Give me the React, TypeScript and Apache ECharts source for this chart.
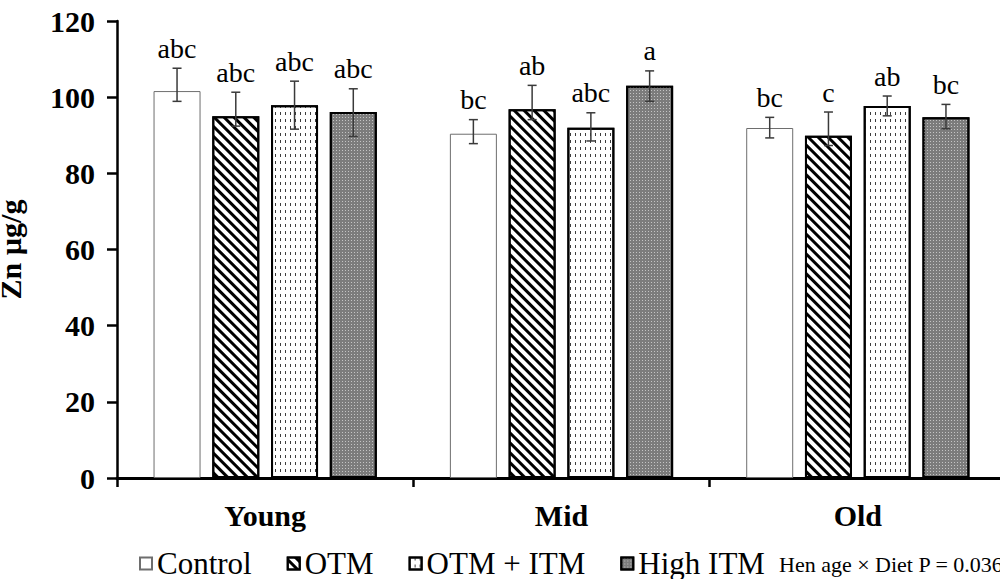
import React, { useEffect, useRef } from "react";
import * as echarts from "echarts";

const categories = ["Young", "Mid", "Old"];
const seriesNames = ["Control", "OTM", "OTM + ITM", "High ITM"];
const control = [101.6, 90.4, 91.9];
const otm = [95.0, 96.8, 89.9];
const otmItm = [97.9, 92.0, 97.7];
const highItm = [96.1, 103.0, 94.7];
// error bar ends [low, high] per category
const controlErr = [[98.9, 107.6], [87.8, 94.1], [89.3, 94.7]];
const otmErr = [[92.4, 101.3], [94.1, 103.1], [87.3, 96.1]];
const otmItmErr = [[91.6, 104.2], [88.5, 95.9], [95.1, 100.3]];
const highItmErr = [[89.7, 102.2], [98.9, 106.9], [91.7, 98.1]];
const controlLetters = ["abc", "bc", "bc"];
const otmLetters = ["abc", "ab", "c"];
const otmItmLetters = ["abc", "abc", "ab"];
const highItmLetters = ["abc", "a", "bc"];
const yTicks = [0, 20, 40, 60, 80, 100, 120];
const note = "Hen age × Diet P = 0.036";

const SERIF = '"Liberation Serif", "Times New Roman", serif';
const BAR_W = 47;
const BAR_GAP = 0.25;

export default function App() {
  const ref = useRef<HTMLDivElement>(null);
  useEffect(() => {
    if (!ref.current) return;
    const chart = echarts.init(ref.current, undefined, { renderer: "svg" });
    const values = [control, otm, otmItm, highItm];
    const errs = [controlErr, otmErr, otmItmErr, highItmErr];
    const letters = [controlLetters, otmLetters, otmItmLetters, highItmLetters];
    const styles: any[] = [
      { color: "#ffffff", borderColor: "#6e6e6e", borderWidth: 1 },
      {
        color: "#ffffff",
        borderColor: "#000",
        borderWidth: 2,
        decal: { symbol: "rect", symbolSize: 1, color: "#000", dashArrayX: [1, 0], dashArrayY: [2.2, 3.4], rotation: Math.PI / 4 },
      },
      {
        color: "#ffffff",
        borderColor: "#000",
        borderWidth: 2,
        decal: { symbol: "rect", symbolSize: 1, color: "#3c3c3c", dashArrayX: [1, 3.3], dashArrayY: [3, 3.5], rotation: 0 },
      },
      {
        color: "#7c7c7c",
        borderColor: "#000",
        borderWidth: 2,
        decal: { symbol: "rect", symbolSize: 1, color: "#c4c4c4", dashArrayX: [1, 2], dashArrayY: [1, 2], rotation: 0 },
      },
    ];
    const errData: number[][] = [];
    errs.forEach((arr, s) => arr.forEach((e, c) => errData.push([c, s, e[0], e[1]])));

    const barSeries = seriesNames.map((name, s) => ({
      name,
      type: "bar",
      data: values[s],
      barWidth: BAR_W,
      barGap: BAR_GAP * 100 + "%",
      itemStyle: styles[s],
      z: 2,
    }));

    chart.setOption({
      animation: false,
      grid: { left: 117, top: 21, width: 889, height: 457, containLabel: false, outerBoundsMode: "none" },
      legend: {
        data: seriesNames,
        left: 139,
        top: 548,
        padding: 0,
        itemWidth: 12,
        itemHeight: 12,
        itemGap: 35,
        icon: "rect",
        textStyle: { fontFamily: SERIF, fontSize: 31, color: "#000" },
      },
      xAxis: {
        type: "category",
        data: categories,
        axisLine: { lineStyle: { color: "#000", width: 3 } },
        axisTick: { show: true, length: 9, lineStyle: { color: "#000", width: 2.5 } },
        axisLabel: { fontFamily: SERIF, fontWeight: "bold", fontSize: 30, color: "#000", margin: 22 },
      },
      yAxis: {
        type: "value",
        min: yTicks[0],
        max: yTicks[yTicks.length - 1],
        interval: yTicks[1] - yTicks[0],
        name: "Zn µg/g",
        nameLocation: "middle",
        nameRotate: 90,
        nameGap: 92,
        nameTextStyle: { fontFamily: SERIF, fontWeight: "bold", fontSize: 30, color: "#000" },
        splitLine: { show: false },
        axisLine: { show: true, lineStyle: { color: "#000", width: 2.5 } },
        axisTick: { show: true, length: 10, lineStyle: { color: "#000", width: 2.5 } },
        axisLabel: { fontFamily: SERIF, fontWeight: "bold", fontSize: 30, color: "#000", margin: 22 },
      },
      graphic: [
        {
          type: "text",
          left: 779,
          top: 553,
          style: { text: note, fontFamily: SERIF, fontSize: 22, fill: "#000" },
        },
      ],
      series: [
        ...barSeries,
        {
          type: "custom",
          name: "err",
          z: 5,
          clip: false,
          data: errData,
          encode: { x: 0, y: [2, 3] },
          renderItem: (params: any, api: any) => {
            const c = api.value(0);
            const s = api.value(1);
            const lo = api.coord([c, api.value(2)]);
            const hi = api.coord([c, api.value(3)]);
            const x = hi[0] + (s - 1.5) * BAR_W * (1 + BAR_GAP);
            const cap = 4.5;
            const stroke = { stroke: "#3a3a3a", lineWidth: 1.5 };
            return {
              type: "group",
              children: [
                { type: "line", shape: { x1: x, y1: hi[1], x2: x, y2: lo[1] }, style: stroke },
                { type: "line", shape: { x1: x - cap, y1: hi[1], x2: x + cap, y2: hi[1] }, style: stroke },
                { type: "line", shape: { x1: x - cap, y1: lo[1], x2: x + cap, y2: lo[1] }, style: stroke },
                {
                  type: "text",
                  style: {
                    text: letters[s][c],
                    x,
                    y: hi[1] - 6,
                    align: "center",
                    verticalAlign: "bottom",
                    fontFamily: SERIF,
                    fontSize: 28,
                    fill: "#000",
                  },
                },
              ],
            };
          },
        },
      ],
    });
    return () => chart.dispose();
  }, []);
  return <div ref={ref} style={{ position: "absolute", left: 0, top: 0, width: 1000, height: 579 }} />;
}
